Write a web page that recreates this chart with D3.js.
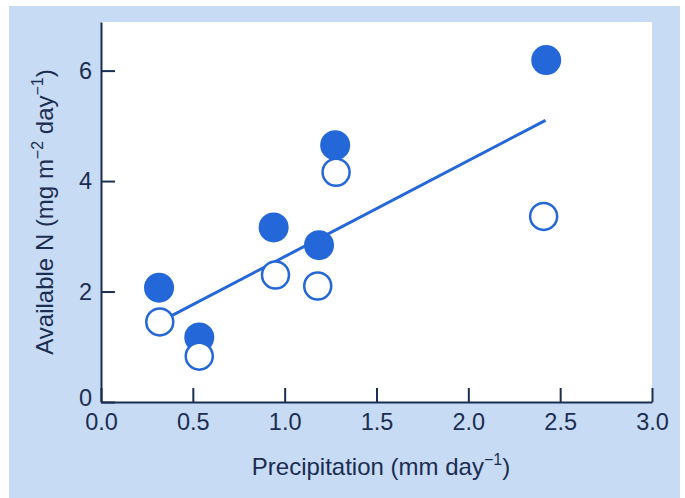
<!DOCTYPE html>
<html>
<head>
<meta charset="utf-8">
<script src="https://cdn.jsdelivr.net/npm/d3@7"></script>
<style>
  body { margin: 0; background: #fff; }
  text { font-family: "Liberation Sans", Arial, sans-serif; }
</style>
</head>
<body>
<div id="chart"></div>
<script>
// precipitation (mm/day) and available N for the two point series
const filledX = [0.316, 0.535, 0.94, 1.187, 1.275, 2.424]
const filledY = [2.07, 1.17, 3.16, 2.84, 4.65, 6.19]
const openX = [0.32, 0.535, 0.95, 1.18, 1.28, 2.41]
const openY = [1.45, 0.83, 2.30, 2.10, 4.16, 3.36]
// fitted line end points
const fitX = [0.32, 2.42]
const fitY = [1.45, 5.10]
const xTicks = [0, 0.5, 1, 1.5, 2, 2.5, 3]
const yTicks = [0, 2, 4, 6]

const width = 685
const height = 498
const margin = { left: 101, top: 22, right: 33, bottom: 96 }
const ink = '#1b2d50'
const blue = '#2467d8'
const yMax = 6.88

const svg = d3.select('#chart').append('svg')
  .attr('width', width)
  .attr('height', height)

// light blue panel + white plot area
svg.append('rect')
  .attr('x', 9).attr('y', 6)
  .attr('width', 671).attr('height', height - 6)
  .attr('fill', '#c8dbf5')

const x = d3.scaleLinear()
  .domain([0, 3])
  .range([margin.left, width - margin.right])

const y = d3.scaleLinear()
  .domain([0, yMax])
  .range([height - margin.bottom, margin.top])

svg.append('rect')
  .attr('x', x(0)).attr('y', y(yMax))
  .attr('width', x(3) - x(0)).attr('height', y(0) - y(yMax))
  .attr('fill', '#fff')

const xAxis = svg.append('g')
  .attr('transform', `translate(0, ${y(0)})`)
  .call(d3.axisBottom(x)
    .tickValues(xTicks)
    .tickFormat(d3.format('.1f'))
    .tickSizeInner(-14)
    .tickSizeOuter(0)
    .tickPadding(11))

const yAxis = svg.append('g')
  .attr('transform', `translate(${x(0)}, 0)`)
  .call(d3.axisLeft(y)
    .tickValues(yTicks)
    .tickFormat(d3.format('d'))
    .tickSizeInner(-14)
    .tickSizeOuter(0)
    .tickPadding(9))

;[xAxis, yAxis].forEach(ax => {
  ax.select('.domain').attr('stroke', ink).attr('stroke-width', 2)
  ax.selectAll('.tick line').attr('stroke', ink).attr('stroke-width', 2)
  ax.selectAll('.tick text')
    .attr('fill', ink)
    .style('font-size', '23.5px')
    .style('font-family', '"Liberation Sans", Arial, sans-serif')
})

// the y "0" sits a little high so it clears the "0.0" below it
yAxis.selectAll('.tick text')
  .filter(d => d === 0)
  .attr('dy', '0.16em')

// regression line, under the open circles
svg.append('line')
  .attr('x1', x(fitX[0])).attr('y1', y(fitY[0]))
  .attr('x2', x(fitX[1])).attr('y2', y(fitY[1]))
  .attr('stroke', blue)
  .attr('stroke-width', 3)

svg.append('g')
  .selectAll('circle')
  .data(filledX.map((d, i) => [d, filledY[i]]))
  .join('circle')
  .attr('cx', d => x(d[0]))
  .attr('cy', d => y(d[1]))
  .attr('r', 15)
  .attr('fill', blue)

svg.append('g')
  .selectAll('circle')
  .data(openX.map((d, i) => [d, openY[i]]))
  .join('circle')
  .attr('cx', d => x(d[0]))
  .attr('cy', d => y(d[1]))
  .attr('r', 13.5)
  .attr('fill', '#fff')
  .attr('stroke', blue)
  .attr('stroke-width', 2.5)

// axis titles
const xTitle = svg.append('text')
  .attr('x', 381).attr('y', 475)
  .attr('text-anchor', 'middle')
  .attr('fill', ink)
  .style('font-size', '24px')
xTitle.append('tspan').text('Precipitation (mm day')
xTitle.append('tspan').attr('dy', -10).style('font-size', '16px').text('\u22121')
xTitle.append('tspan').attr('dy', 10).text(')')

const yTitle = svg.append('text')
  .attr('transform', `translate(53, ${(y(0) + y(yMax)) / 2}) rotate(-90)`)
  .attr('text-anchor', 'middle')
  .attr('fill', ink)
  .style('font-size', '24px')
yTitle.append('tspan').text('Available N (mg m')
yTitle.append('tspan').attr('dy', -10).style('font-size', '16px').text('\u22122')
yTitle.append('tspan').attr('dy', 10).text(' day')
yTitle.append('tspan').attr('dy', -10).style('font-size', '16px').text('\u22121')
yTitle.append('tspan').attr('dy', 10).text(')')
</script>
</body>
</html>
